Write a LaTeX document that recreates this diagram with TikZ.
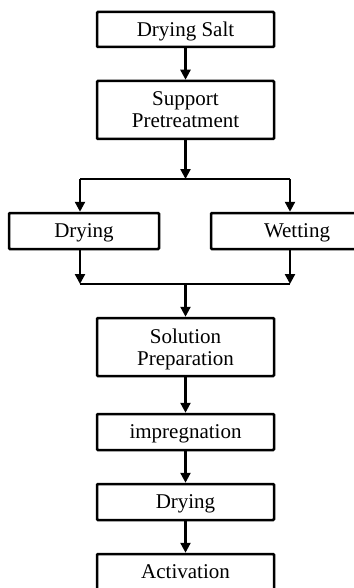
\documentclass[tikz,border=0pt]{standalone}
\usepackage{fontspec}
\setmainfont{Liberation Serif}
\usetikzlibrary{arrows.meta}
\begin{document}
\begin{tikzpicture}[x=1pt,y=-1pt,
  box/.style={draw=black,line width=2.5pt,rectangle,rounded corners=1pt,inner sep=0pt,align=center,
    font=\fontsize{21}{22}\selectfont,text depth=0pt},
  arr/.style={line width=2.3pt,-{Triangle[length=10pt,width=10pt]}},
  ln/.style={line width=2.3pt}]
\useasboundingbox (0,0) rectangle (353,588);
\node[box,minimum width=177pt,minimum height=35pt] (salt) at (185.5,29.5) {Drying Salt};
\node[box,minimum width=177pt,minimum height=58pt] (support) at (185.5,110) {Support\\Pretreatment};
\node[box,minimum width=150pt,minimum height=36pt] (dry1) at (84,231) {Drying};
\node[box,minimum width=172pt,minimum height=36pt] (wet) at (297,231) {Wetting};
\node[box,minimum width=177pt,minimum height=58pt] (sol) at (185.5,347) {Solution\\Preparation};
\node[box,minimum width=177pt,minimum height=36pt] (imp) at (185.5,432) {impregnation};
\node[box,minimum width=177pt,minimum height=36pt] (dry2) at (185.5,502) {Drying};
\node[box,minimum width=177pt,minimum height=36pt] (act) at (185.5,572) {Activation};
\coordinate (bl) at (80,179);
\coordinate (br) at (290,179);
\coordinate (bm) at (185.5,179);
\coordinate (ml) at (80,284);
\coordinate (mr) at (290,284);
\coordinate (mm) at (185.5,284);
\draw[arr] (salt) -- (support);
\draw[arr] (support) -- (bm);
\draw[ln] (bl) -- (br);
\draw[arr] (bl) -- (dry1.north -| bl);
\draw[arr] (br) -- (wet.north -| br);
\draw[arr] (dry1.south -| ml) -- (ml);
\draw[arr] (wet.south -| mr) -- (mr);
\draw[ln] (ml) -- (mr);
\draw[arr] (mm) -- (sol);
\draw[arr] (sol) -- (imp);
\draw[arr] (imp) -- (dry2);
\draw[arr] (dry2) -- (act);
\end{tikzpicture}
\end{document}
